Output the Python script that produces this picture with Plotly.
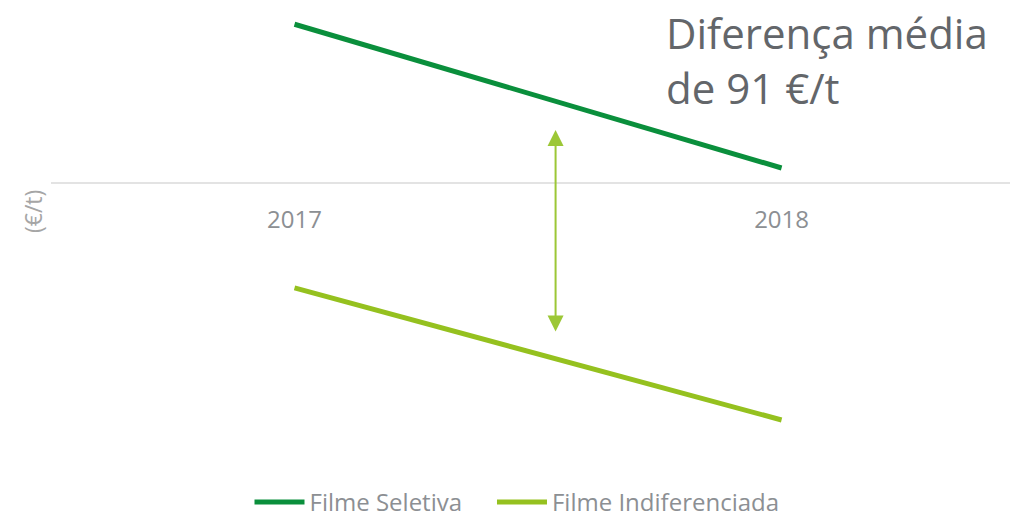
import plotly.graph_objects as go

years = ["2017", "2018"]
series_names = ["Filme Seletiva", "Filme Indiferenciada"]
seletiva = [56.0, 5.3]
indiferenciada = [-37.0, -83.6]
arrow_x = 0.536
arrow_top = 18.7
arrow_bottom = -52.9
note = "Diferença média<br>de 91 €/t"

PLOT_W, PLOT_H = 959, 460
NBSP = "\u00a0"

fig = go.Figure()
fig.add_trace(go.Scatter(x=[0, 1], y=seletiva, mode="lines", name=series_names[0] + NBSP * 4,
                         line=dict(color="#0a8f3c", width=5)))
fig.add_trace(go.Scatter(x=[0, 1], y=indiferenciada, mode="lines", name=series_names[1],
                         line=dict(color="#95c11f", width=5)))

fig.add_annotation(x=arrow_x, y=arrow_top, ax=arrow_x, ay=arrow_bottom, xref="x", yref="y",
                   axref="x", ayref="y", text="", showarrow=True, arrowhead=2, startarrowhead=2,
                   arrowside="end+start", arrowcolor="#9cc736", arrowwidth=2,
                   arrowsize=1.6, startarrowsize=1.6)
fig.add_annotation(x=(664 - 51) / PLOT_W, y=(PLOT_H - 2) / PLOT_H, xref="paper", yref="paper",
                   text=note, showarrow=False,
                   font=dict(family="Open Sans", size=42, color="#63666a"),
                   align="left", xanchor="left", yanchor="top")
fig.add_annotation(x=(33 - 51) / PLOT_W, y=(PLOT_H - 212) / PLOT_H, xref="paper", yref="paper",
                   text="(€/t)", showarrow=False, textangle=-90, xanchor="center",
                   yanchor="middle", font=dict(family="Open Sans", size=23, color="#a6a6a6"))

fig.update_layout(
    width=1010, height=518,
    margin=dict(l=51, r=0, t=0, b=58, autoexpand=False),
    plot_bgcolor="white", paper_bgcolor="white",
    showlegend=True,
    legend=dict(orientation="h", x=(517 - 51) / PLOT_W, xanchor="center", y=-0.043,
                yanchor="top", font=dict(family="Open Sans", size=24, color="#8c8f93"),
                itemwidth=50),
    xaxis=dict(tickmode="array", tickvals=[0, 1], ticktext=years, range=[-0.5, 1.469],
               showgrid=False, zeroline=False, showline=False, anchor="free",
               position=(PLOT_H - 183) / PLOT_H, ticklabelstandoff=20,
               tickfont=dict(family="Open Sans", size=24, color="#8c8f93")),
    yaxis=dict(range=[-97.7, 64.55], showgrid=False, zeroline=True, zerolinecolor="#e3e3e3",
               zerolinewidth=2, showticklabels=False, ticks=""),
)

fig.write_html("out.html", config={"displayModeBar": False},
               post_script="document.body.style.margin='0';")
